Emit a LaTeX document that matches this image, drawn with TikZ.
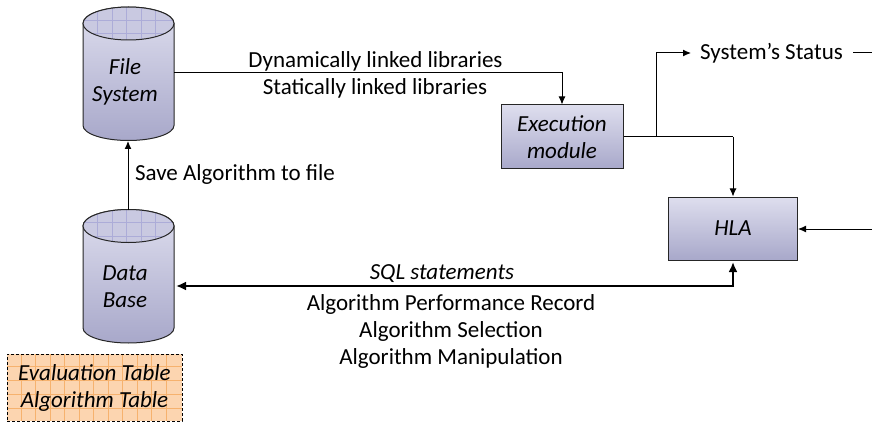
\documentclass[tikz,border=0pt]{standalone}
\usepackage{fontspec}
\setmainfont{Carlito}
\usetikzlibrary{arrows.meta}
\definecolor{capfill}{HTML}{C9C9E1}
\definecolor{capgrid}{HTML}{ACACD8}
\definecolor{tabfill}{HTML}{FCD5B0}
\definecolor{tabgrid}{HTML}{F6B26E}
\definecolor{shadetop}{HTML}{DEDEEE}
\definecolor{shadebot}{HTML}{A8A8CA}
\tikzset{
  x=1pt, y=-1pt,
  every node/.style={font=\fontsize{23}{27}\selectfont, align=center, inner sep=0pt},
  slanted/.style={font=\fontsize{23}{27}\selectfont\itshape},
  block/.style={draw=black!85, line width=1pt, top color=shadetop, bottom color=shadebot, slanted},
  canframe/.style={minimum width=91pt, minimum height=133pt},
  conn/.style={-{Latex[length=8pt,width=7pt]}, line width=1pt},
  busline/.style={-{Latex[length=10pt,width=9pt]}, line width=2.4pt},
}
% body and cap of a can, #1 = x of the axis, #2 = y of the cap centre
\newcommand{\drawcan}[2]{
  \draw[draw=black!85, line width=1pt, top color=shadetop, bottom color=shadebot]
    (#1-45.5,#2) -- (#1-45.5,#2+102) arc [x radius=45.5, y radius=-15, start angle=180, end angle=360]
    -- (#1+45.5,#2) arc [x radius=45.5, y radius=-16.5, start angle=0, end angle=180] -- cycle;
  \begin{scope}
    \clip (#1,#2) ellipse [x radius=45.5, y radius=16.5];
    \fill[capfill] (#1,#2) ellipse [x radius=45.5, y radius=16.5];
    \foreach \dx in {-31,-16.5,-2,12.5,27}
      \draw[capgrid, line width=0.4pt] (#1+\dx,#2-20) -- (#1+\dx,#2+20);
    \foreach \dy in {-3.5,10}
      \draw[capgrid, line width=0.4pt] (#1-50,#2+\dy) -- (#1+50,#2+\dy);
  \end{scope}
  \draw[line width=1pt, black!85] (#1,#2) ellipse [x radius=45.5, y radius=16.5];
}
\begin{document}
\begin{tikzpicture}
    \useasboundingbox (0,0) rectangle (872,422);

    \drawcan{128.5}{23.5}
    \drawcan{128.5}{226}
    \node[canframe] (files) at (128.5,73.5) {};
    \node[canframe] (data) at (128.5,276) {};
    \node[slanted] (fileslabel) at (125,82) {File\\System};
    \node[slanted] (datalabel) at (125,287) {Data\\Base};

    % table stack under the data base
    \begin{scope}
      \clip (7,354) rectangle (182,421);
      \fill[tabfill] (7,354) rectangle (182,421);
      \foreach \gx in {21,35.5,50,64.5,79,93.5,108,122.5,137,151.5,166}
        \draw[tabgrid, line width=0.5pt] (\gx,354) -- (\gx,421);
      \foreach \gy in {366,380,394,408}
        \draw[tabgrid, line width=0.5pt] (7,\gy) -- (182,\gy);
    \end{scope}
    \node[draw, dashed, line width=0.7pt, dash pattern=on 3pt off 2pt, minimum width=175pt, minimum height=67pt, slanted] (tables) at (94.5,387.5) {Evaluation Table\\Algorithm Table};

    \node[block, minimum width=122pt, minimum height=64pt] (exec) at (562,137) {Execution\\module};
    \node[block, minimum width=129pt, minimum height=63pt] (hla) at (733,228.5) {HLA};

    \node (status) at (771.5,53) {System's Status};
    \coordinate (statusout) at (872,53);
    \coordinate (hlain) at (872,229);
    \coordinate (branch) at (656,137);

    \draw[conn] (128,210) -- (128,141);
    \node (savelabel) at (235,174) {Save Algorithm to file};

    \draw[line width=1pt, -{Latex[length=8pt,width=7pt]}] (174,73) -- (562,73) -- (exec.north);
    \node (dynlabel) at (375.5,61) {Dynamically linked libraries};
    \node (statlabel) at (375,88) {Statically linked libraries};

    \draw[line width=1pt] (exec.east |- branch) -- (733,137);
    \draw[conn] (733,137) -- (hla.north);
    \draw[conn, shorten >=9pt] (branch) -- (656,53) -- (status.west);
    \draw[line width=1pt] ([xshift=10pt]status.east) -- (statusout);
    \draw[conn] (hlain) -- (hla.east |- hlain);

    \draw[busline, shorten >=1.5pt] (733,286) -- (hla.south);
    \draw[busline, shorten >=2pt] (734.2,286) -- (174,286);
    \node[slanted] (sqllabel) at (442,274) {SQL statements};
    \node (alglabel) at (451,331) {Algorithm Performance Record\\Algorithm Selection\\Algorithm Manipulation};
\end{tikzpicture}
\end{document}
